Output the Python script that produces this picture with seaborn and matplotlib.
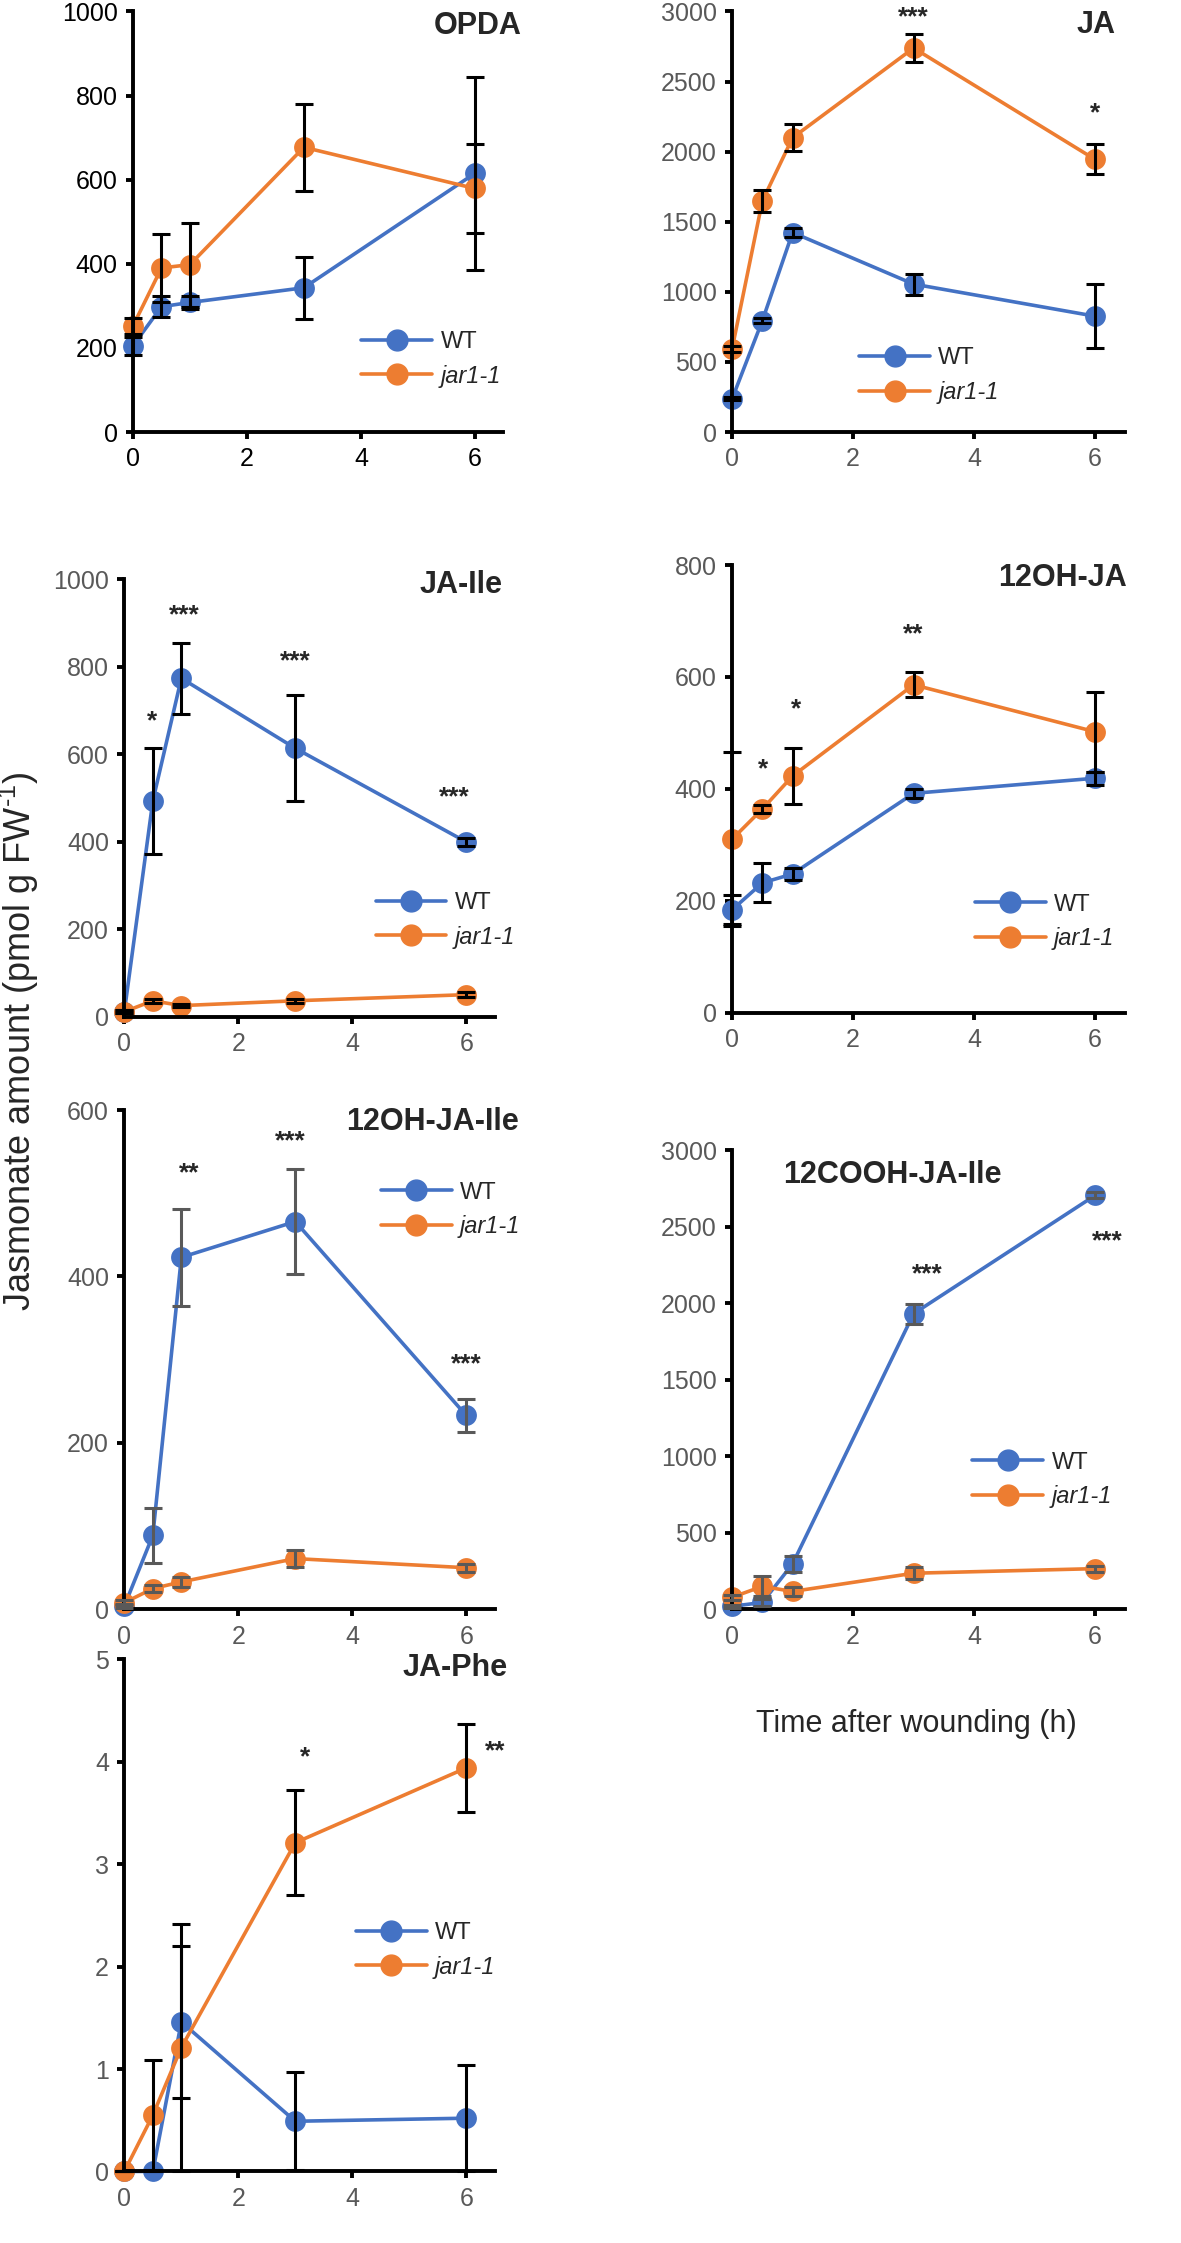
import numpy as np
import pandas as pd
import seaborn as sns
import matplotlib.pyplot as plt
from matplotlib.lines import Line2D

# time after wounding (h)
time = [0, 0.5, 1, 3, 6]

opda_wt = [205, 298, 308, 343, 615]
opda_wt_err = [22, 25, 15, 74, 230]
opda_jar = [252, 390, 398, 677, 579]
opda_jar_err = [20, 80, 100, 103, 105]

ja_wt = [237, 794, 1423, 1055, 826]
ja_wt_err = [10, 20, 30, 75, 230]
ja_jar = [593, 1648, 2099, 2739, 1944]
ja_jar_err = [20, 80, 97, 100, 107]

jaile_wt = [12, 494, 774, 614, 400]
jaile_wt_err = [3, 121, 81, 121, 10]
jaile_jar = [12, 37, 26, 37, 51]
jaile_jar_err = [3, 5, 4, 5, 6]

ohja_wt = [184, 232, 248, 392, 419]
ohja_wt_err = [26, 35, 10, 8, 12]
ohja_jar = [310, 364, 423, 586, 502]
ohja_jar_err = [155, 8, 50, 22, 71]

ohile_wt = [4, 89, 423, 466, 233]
ohile_wt_err = [2, 33, 58, 63, 20]
ohile_jar = [8, 25, 33, 61, 50]
ohile_jar_err = [3, 4, 6, 10, 5]

cooh_wt = [20, 45, 297, 1932, 2705]
cooh_wt_err = [10, 20, 50, 65, 20]
cooh_jar = [79, 150, 117, 236, 266]
cooh_jar_err = [15, 65, 30, 40, 20]

japhe_wt = [0, 0, 1.46, 0.49, 0.52]
japhe_wt_err = [0, 0, 0.74, 0.48, 0.52]
japhe_jar = [0, 0.55, 1.21, 3.21, 3.94]
japhe_jar_err = [0, 0.54, 1.21, 0.51, 0.43]

# significance marks: (x, y, text)
opda_stars = []
ja_stars = [(3, 2960, '***'), (6, 2270, '*')]
jaile_stars = [(0.48, 675, '*'), (1.05, 918, '***'), (3.0, 812, '***'), (5.8, 502, '***')]
ohja_stars = [(0.52, 435, '*'), (1.05, 542, '*'), (3.0, 676, '**')]
ohile_stars = [(1.14, 524, '**'), (2.91, 563, '***'), (6.0, 294, '***')]
cooh_stars = [(3.22, 2186, '***'), (6.2, 2403, '***')]
japhe_stars = [(3.17, 4.04, '*'), (6.5, 4.1, '**')]

blue = '#4472C4'
orange = '#ED7D31'

sns.set_theme(style='ticks')
plt.rcParams['font.family'] = ['Liberation Sans', 'DejaVu Sans']
plt.rcParams['mathtext.fontset'] = 'custom'
plt.rcParams['mathtext.rm'] = 'Liberation Sans'

fig = plt.figure(figsize=(11.81, 22.43), dpi=100)


def panel(rect, wt, wt_err, jar, jar_err, ymax, ystep, title, tx, ty, tha,
          lx, ly, stars, tick_color='#595959', err_color='black'):
    ax = fig.add_axes(rect)
    df = pd.DataFrame({'time': time * 2, 'amount': wt + jar,
                       'line': ['WT'] * 5 + ['jar1-1'] * 5})
    sns.lineplot(data=df, x='time', y='amount', hue='line', palette=[blue, orange],
                 marker='o', markersize=15, markeredgewidth=0, linewidth=2.6,
                 errorbar=None, legend=False, ax=ax)
    for ln in ax.lines:
        ln.set_clip_on(False)
    for v, e in [(wt, wt_err), (jar, jar_err)]:
        eb = ax.errorbar(time, v, yerr=e, fmt='none', ecolor=err_color, elinewidth=2.2,
                         capsize=6.5, capthick=2.2, zorder=3)
        for art in eb.lines[1] + eb.lines[2]:
            art.set_clip_on(False)
    ax.set_xlim(0, 6.5)
    ax.set_ylim(0, ymax)
    ax.set_xticks([0, 2, 4, 6])
    yt = np.arange(0, ymax + ystep / 2, ystep)
    ax.set_yticks(yt)
    ax.set_yticklabels([f'{t:g}' for t in yt])
    ax.set_xlabel('')
    ax.set_ylabel('')
    ax.spines[['top', 'right']].set_visible(False)
    for s in ['left', 'bottom']:
        ax.spines[s].set_linewidth(2.8)
        ax.spines[s].set_color('black')
    ax.tick_params(direction='out', length=5, width=2.8, color='black',
                   labelsize=18, labelcolor=tick_color, pad=6)
    ax.text(tx, ty, title, ha=tha, va='center', fontsize=22, fontweight='bold')
    for x, y, s in stars:
        ax.text(x, y, s, ha='center', va='center', fontsize=19, fontweight='bold')
    handles = [Line2D([], [], color=blue, marker='o', markersize=15, lw=2.6),
               Line2D([], [], color=orange, marker='o', markersize=15, lw=2.6)]
    leg = ax.legend(handles, ['WT', 'jar1-1'], loc='center left', bbox_to_anchor=(lx, ly),
                    bbox_transform=ax.transData, frameon=False, borderpad=0,
                    borderaxespad=0, handlelength=3.0, handletextpad=0.35,
                    labelspacing=0.5, fontsize=17)
    leg.get_texts()[1].set_style('italic')
    return ax


panel([0.1126, 0.8074, 0.3136, 0.1875], opda_wt, opda_wt_err, opda_jar, opda_jar_err,
      1000, 200, 'OPDA', 6.82, 965, 'right', 4.01, 173, opda_stars, tick_color='black')
panel([0.6199, 0.8074, 0.333, 0.1875], ja_wt, ja_wt_err, ja_jar, ja_jar_err,
      3000, 500, 'JA', 6.33, 2905, 'right', 2.10, 403, ja_stars)
panel([0.1053, 0.5466, 0.3136, 0.1951], jaile_wt, jaile_wt_err, jaile_jar, jaile_jar_err,
      1000, 200, 'JA-Ile', 6.64, 988, 'right', 4.41, 221, jaile_stars)
panel([0.6199, 0.5485, 0.333, 0.1996], ohja_wt, ohja_wt_err, ohja_jar, ohja_jar_err,
      800, 200, '12OH-JA', 6.52, 776, 'right', 4.01, 162, ohja_stars)
panel([0.1053, 0.2825, 0.3136, 0.2226], ohile_wt, ohile_wt_err, ohile_jar, ohile_jar_err,
      600, 200, '12OH-JA-Ile', 6.92, 586, 'right', 4.50, 480, ohile_stars,
      err_color='#595959')
panel([0.6199, 0.2825, 0.333, 0.2047], cooh_wt, cooh_wt_err, cooh_jar, cooh_jar_err,
      3000, 500, '12COOH-JA-Ile', 0.84, 2835, 'left', 3.97, 845, cooh_stars,
      err_color='#595959')
panel([0.1053, 0.0319, 0.3136, 0.2283], japhe_wt, japhe_wt_err, japhe_jar, japhe_jar_err,
      5, 1, 'JA-Phe', 6.72, 4.92, 'right', 4.06, 2.16, japhe_stars)

fig.text(0.016, 0.536, r'Jasmonate amount (pmol g FW$^{\text{-1}}$)', rotation=90,
         ha='center', va='center', fontsize=26)
fig.text(0.776, 0.2315, 'Time after wounding (h)', ha='center', va='center', fontsize=22)

fig.savefig('out.png', dpi=100)
